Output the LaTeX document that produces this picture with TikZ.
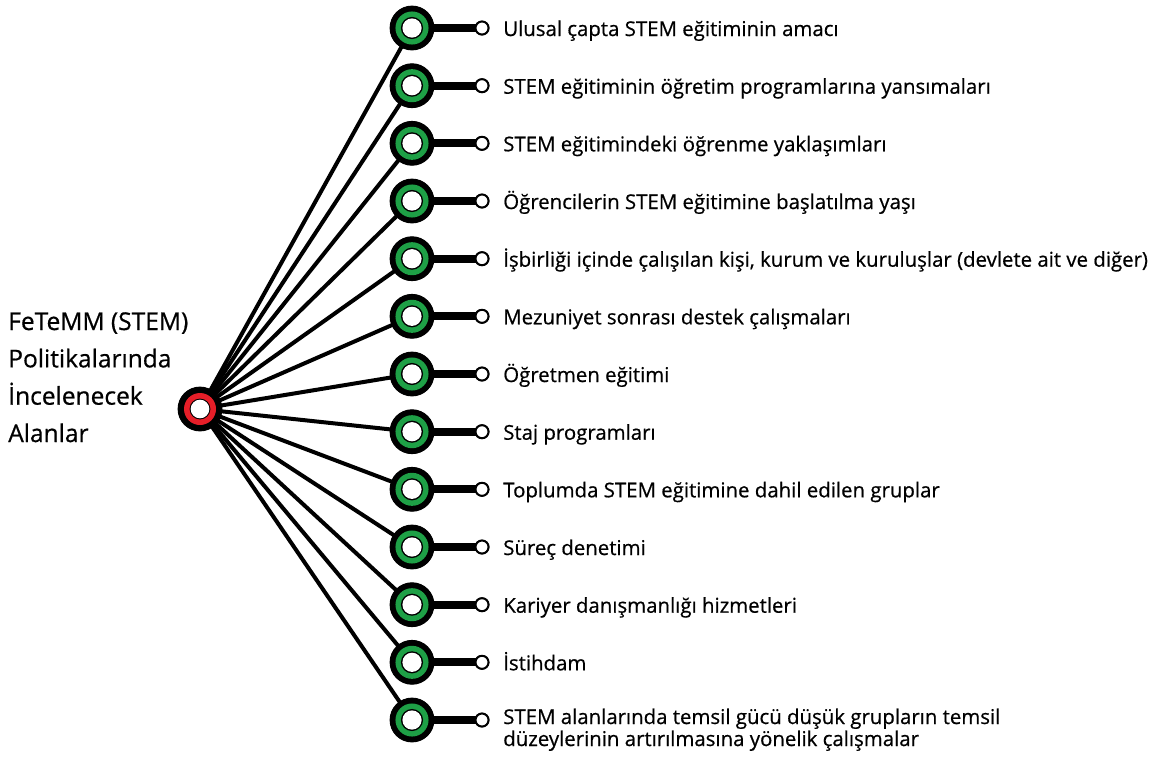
\documentclass[tikz,border=0pt]{standalone}
\usepackage{fontspec}
\setmainfont{Open Sans}[FakeBold=0.6]
\definecolor{ringgreen}{RGB}{30,160,70}
\definecolor{ringred}{RGB}{230,30,40}
\begin{document}
\begin{tikzpicture}[x=0.75pt,y=-0.75pt,
  hubnode/.style={circle,fill=black,minimum size=33pt,inner sep=0pt},
  branchnode/.style={circle,fill=black,minimum size=33pt,inner sep=0pt},
  endnode/.style={circle,draw=black,fill=white,line width=1.5pt,minimum size=9.5pt,inner sep=0pt},
  spoke/.style={line width=3pt,black},
  bar/.style={line width=6pt,black},
  itemtext/.style={anchor=base west,inner sep=0pt,font=\fontsize{15.3pt}{16.5pt}\selectfont,align=left},
  titletext/.style={anchor=base west,inner sep=0pt,font=\fontsize{18.4pt}{28pt}\selectfont,align=left}]
\useasboundingbox (0,0) rectangle (1166,765);
\node[hubnode] (hub) at (200,409) {};
\foreach \i/\y in {1/28,2/85.7,3/143.3,4/201,5/258.7,6/316.3,7/374,8/431.7,9/489.3,10/547,11/604.7,12/662.3,13/720}{
  \node[branchnode] (n\i) at (412,\y) {};
  \node[endnode] (c\i) at (482,\y) {};
  \coordinate (tx\i) at (503,\y);
}
\foreach \i in {1,...,13}{
  \draw[spoke] (hub.center) -- (n\i.center);
}
\foreach \i in {1,...,13}{
  \draw[bar] (n\i.center) -- (c\i.center);
  \fill[black] (n\i.center) circle[radius=16.8pt];
  \fill[ringgreen] (n\i.center) circle[radius=12.4pt];
  \fill[black] (n\i.center) circle[radius=8.3pt];
  \fill[white] (n\i.center) circle[radius=7.2pt];
  \draw[line width=1.5pt,fill=white] (c\i.center) circle[radius=4.9pt];
}
\fill[black] (hub.center) circle[radius=16.8pt];
\fill[ringred] (hub.center) circle[radius=12pt];
\fill[black] (hub.center) circle[radius=7.8pt];
\fill[white] (hub.center) circle[radius=7pt];
\node[titletext] (title) at (8,442) {FeTeMM (STEM)\\Politikalarında\\İncelenecek\\Alanlar};
\node[itemtext] (t1) at ([yshift=-8*0.75pt]tx1) {Ulusal çapta STEM eğitiminin amacı};
\node[itemtext] (t2) at ([yshift=-8*0.75pt]tx2) {STEM eğitiminin öğretim programlarına yansımaları};
\node[itemtext] (t3) at ([yshift=-8*0.75pt]tx3) {STEM eğitimindeki öğrenme yaklaşımları};
\node[itemtext] (t4) at ([yshift=-8*0.75pt]tx4) {Öğrencilerin STEM eğitimine başlatılma yaşı};
\node[itemtext] (t5) at ([yshift=-8*0.75pt]tx5) {İşbirliği içinde çalışılan kişi, kurum ve kuruluşlar (devlete ait ve diğer)};
\node[itemtext] (t6) at ([yshift=-8*0.75pt]tx6) {Mezuniyet sonrası destek çalışmaları};
\node[itemtext] (t7) at ([yshift=-8*0.75pt]tx7) {Öğretmen eğitimi};
\node[itemtext] (t8) at ([yshift=-8*0.75pt]tx8) {Staj programları};
\node[itemtext] (t9) at ([yshift=-8*0.75pt]tx9) {Toplumda STEM eğitimine dahil edilen gruplar};
\node[itemtext] (t10) at ([yshift=-8*0.75pt]tx10) {Süreç denetimi};
\node[itemtext] (t11) at ([yshift=-8*0.75pt]tx11) {Kariyer danışmanlığı hizmetleri};
\node[itemtext] (t12) at ([yshift=-8*0.75pt]tx12) {İstihdam};
\node[itemtext] (t13) at ([yshift=-26*0.75pt]tx13) {STEM alanlarında temsil gücü düşük grupların temsil\\düzeylerinin artırılmasına yönelik çalışmalar};
\end{tikzpicture}
\end{document}
